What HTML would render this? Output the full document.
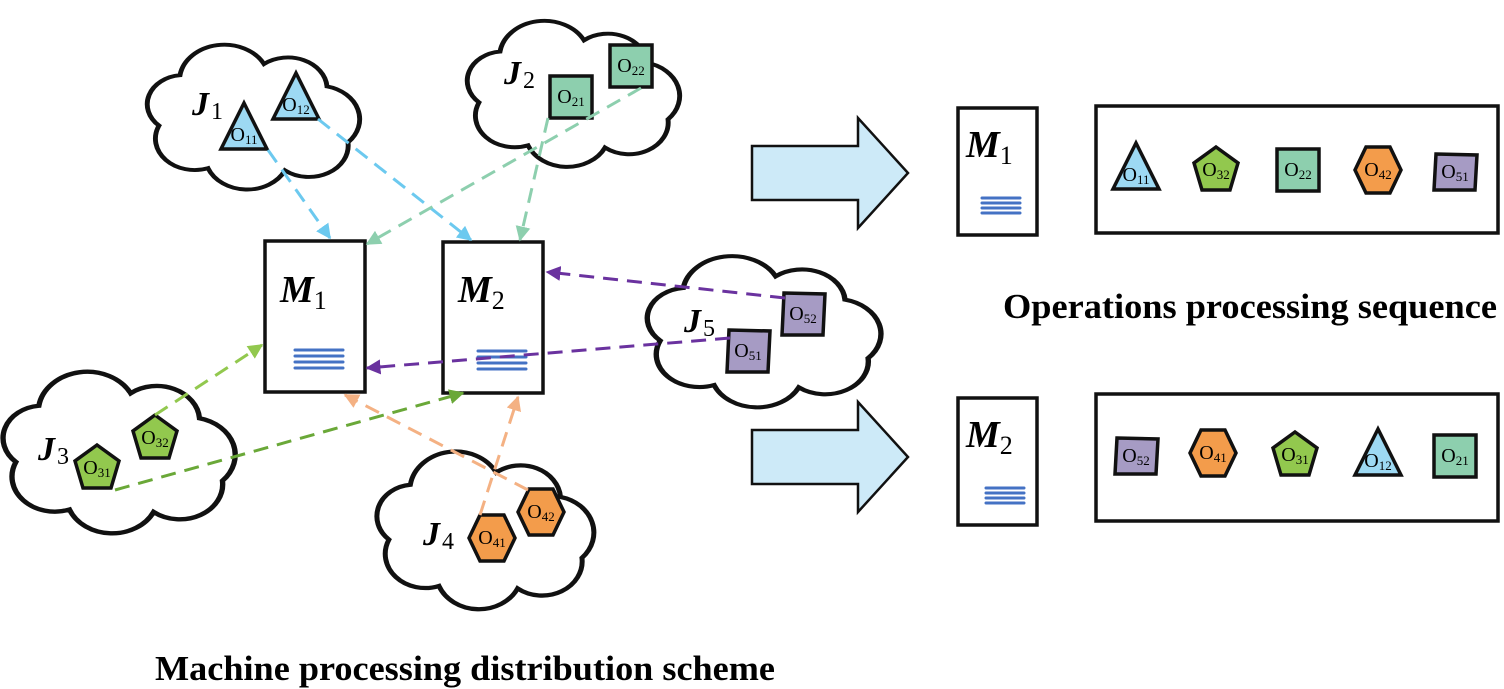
<!DOCTYPE html>
<html><head><meta charset="utf-8"><style>
html,body{margin:0;padding:0;background:#fff;width:1504px;height:689px;overflow:hidden}
svg{display:block}
text{font-family:"Liberation Serif",serif}
.cl{fill:#fff;stroke:#111;stroke-width:3.5;vector-effect:non-scaling-stroke}
.sh{stroke:#111;stroke-width:3.5;stroke-linejoin:miter}
.ot{font-size:20px;text-anchor:middle}
.ot tspan{font-size:13px}
.jl{font-size:34px;font-style:italic;font-weight:bold}
.jl tspan{font-size:24px;font-style:normal;font-weight:normal}
.ml{font-size:38px;font-style:italic;font-weight:bold}
.ml tspan{font-size:26px;font-style:normal;font-weight:normal}
.box{fill:#fff;stroke:#111;stroke-width:3.5}
.bl{stroke:#4472c4;stroke-width:3;stroke-linecap:round}
.d{fill:none;stroke-width:3;stroke-dasharray:15 9}
</style></head><body>
<svg width="1504" height="689" viewBox="0 0 1504 689" xmlns="http://www.w3.org/2000/svg">
<defs>
<path id="cloud" d="M45,35 A32,32 0 0 1 105,25 A28,28 0 0 1 150,45 A30,30 0 0 1 165,95 A28,28 0 0 1 120,120 A30,30 0 0 1 65,118 A28,28 0 0 1 30,80 A26,26 0 0 1 45,35 Z"/>
<marker id="aB" viewBox="0 0 10 10" refX="9" refY="5" markerWidth="5" markerHeight="5" orient="auto"><path d="M0,0L10,5L0,10z" fill="#6cc9ef"/></marker>
<marker id="aT" viewBox="0 0 10 10" refX="9" refY="5" markerWidth="5" markerHeight="5" orient="auto"><path d="M0,0L10,5L0,10z" fill="#8dcfae"/></marker>
<marker id="aP" viewBox="0 0 10 10" refX="9" refY="5" markerWidth="5" markerHeight="5" orient="auto"><path d="M0,0L10,5L0,10z" fill="#6a329f"/></marker>
<marker id="aL" viewBox="0 0 10 10" refX="9" refY="5" markerWidth="5" markerHeight="5" orient="auto"><path d="M0,0L10,5L0,10z" fill="#92c84e"/></marker>
<marker id="aG" viewBox="0 0 10 10" refX="9" refY="5" markerWidth="5" markerHeight="5" orient="auto"><path d="M0,0L10,5L0,10z" fill="#6aa838"/></marker>
<marker id="aO" viewBox="0 0 10 10" refX="9" refY="5" markerWidth="5" markerHeight="5" orient="auto"><path d="M0,0L10,5L0,10z" fill="#f4b183"/></marker>
</defs>

<use href="#cloud" class="cl" transform="translate(117,36) scale(1.4,1.12)"/>
<use href="#cloud" class="cl" transform="translate(437,12) scale(1.4,1.13)"/>
<use href="#cloud" class="cl" transform="translate(-30,362) scale(1.53,1.25)"/>
<use href="#cloud" class="cl" transform="translate(346,442) scale(1.43,1.22)"/>
<use href="#cloud" class="cl" transform="translate(614,247) scale(1.54,1.17)"/>

<rect class="box" x="265" y="241" width="100" height="151"/>
<rect class="box" x="443" y="242" width="100" height="151"/>
<text class="ml" x="280" y="302">M<tspan dy="7">1</tspan></text>
<text class="ml" x="458" y="302">M<tspan dy="7">2</tspan></text>
<g class="bl"><line x1="295" y1="350" x2="343" y2="350"/><line x1="295" y1="356" x2="343" y2="356"/><line x1="295" y1="362" x2="343" y2="362"/><line x1="295" y1="368" x2="343" y2="368"/></g>
<g class="bl"><line x1="478" y1="351" x2="526" y2="351"/><line x1="478" y1="357" x2="526" y2="357"/><line x1="478" y1="363" x2="526" y2="363"/><line x1="478" y1="369" x2="526" y2="369"/></g>

<text class="jl" x="192" y="115">J<tspan dx="2" dy="4">1</tspan></text>
<text class="jl" x="504" y="84">J<tspan dx="2" dy="4">2</tspan></text>
<text class="jl" x="38" y="460">J<tspan dx="2" dy="4">3</tspan></text>
<text class="jl" x="423" y="545">J<tspan dx="2" dy="4">4</tspan></text>
<text class="jl" x="684" y="332">J<tspan dx="2" dy="4">5</tspan></text>

<g transform="translate(244,126)"><polygon class="sh" fill="#9dd9f3" points="0,-23 23,23 -23,23"/><text class="ot" y="15">O<tspan dy="3">11</tspan></text></g>
<g transform="translate(296,96)"><polygon class="sh" fill="#9dd9f3" points="0,-23 23,23 -23,23"/><text class="ot" y="15">O<tspan dy="3">12</tspan></text></g>
<g transform="translate(571,97)"><polygon class="sh" fill="#8dcfae" points="-21,-21 21,-21 21,21 -21,21"/><text class="ot" y="6">O<tspan dy="3">21</tspan></text></g>
<g transform="translate(631,66)"><polygon class="sh" fill="#8dcfae" points="-21,-21 21,-21 21,21 -21,21"/><text class="ot" y="6">O<tspan dy="3">22</tspan></text></g>
<g transform="translate(97,468)"><polygon class="sh" fill="#92c84e" points="0,-23 22,-7 14,20 -14,20 -22,-7"/><text class="ot" y="6">O<tspan dy="3">31</tspan></text></g>
<g transform="translate(155,438)"><polygon class="sh" fill="#92c84e" points="0,-23 22,-7 14,20 -14,20 -22,-7"/><text class="ot" y="6">O<tspan dy="3">32</tspan></text></g>
<g transform="translate(492,538)"><polygon class="sh" fill="#f39c4b" points="-23,0 -12,-23 12,-23 23,0 12,23 -12,23"/><text class="ot" y="6">O<tspan dy="3">41</tspan></text></g>
<g transform="translate(541,512)"><polygon class="sh" fill="#f39c4b" points="-23,0 -12,-23 12,-23 23,0 12,23 -12,23"/><text class="ot" y="6">O<tspan dy="3">42</tspan></text></g>
<g transform="translate(748,351)"><polygon class="sh" fill="#a69bc4" points="-19,-21 22,-20 20,21 -21,21"/><text class="ot" y="6">O<tspan dy="3">51</tspan></text></g>
<g transform="translate(803,314)"><polygon class="sh" fill="#a69bc4" points="-19,-21 22,-20 20,21 -21,21"/><text class="ot" y="6">O<tspan dy="3">52</tspan></text></g>

<line class="d" stroke="#6cc9ef" x1="268" y1="150" x2="330" y2="238" marker-end="url(#aB)"/>
<line class="d" stroke="#6cc9ef" x1="318" y1="119" x2="471" y2="240" marker-end="url(#aB)"/>
<line class="d" stroke="#8dcfae" x1="641" y1="88" x2="367" y2="244" marker-end="url(#aT)"/>
<line class="d" stroke="#8dcfae" x1="548" y1="118" x2="520" y2="240" marker-end="url(#aT)"/>
<line class="d" stroke="#6a329f" x1="785" y1="298" x2="547" y2="272" marker-end="url(#aP)"/>
<line class="d" stroke="#6a329f" x1="730" y1="338" x2="367" y2="368" marker-end="url(#aP)"/>
<line class="d" stroke="#92c84e" x1="155" y1="415" x2="262" y2="345" marker-end="url(#aL)"/>
<line class="d" stroke="#6aa838" x1="115" y1="490" x2="463" y2="393" marker-end="url(#aG)"/>
<line class="d" stroke="#f4b183" x1="528" y1="490" x2="345" y2="395" marker-end="url(#aO)"/>
<line class="d" stroke="#f4b183" x1="480" y1="515" x2="518" y2="397" marker-end="url(#aO)"/>

<polygon points="752,146 858,146 858,118 908,173 858,228 858,200 752,200" fill="#cdeaf8" stroke="#111" stroke-width="2.5"/>
<polygon points="752,430 858,430 858,402 908,457 858,512 858,484 752,484" fill="#cdeaf8" stroke="#111" stroke-width="2.5"/>

<rect class="box" x="958" y="108" width="79" height="127"/>
<text class="ml" x="966" y="157">M<tspan dy="7">1</tspan></text>
<g class="bl"><line x1="982" y1="198" x2="1020" y2="198"/><line x1="982" y1="203" x2="1020" y2="203"/><line x1="982" y1="208" x2="1020" y2="208"/><line x1="982" y1="213" x2="1020" y2="213"/></g>
<rect class="box" x="1096" y="106" width="402" height="127"/>

<rect class="box" x="958" y="398" width="79" height="127"/>
<text class="ml" x="966" y="447">M<tspan dy="7">2</tspan></text>
<g class="bl"><line x1="986" y1="488" x2="1024" y2="488"/><line x1="986" y1="493" x2="1024" y2="493"/><line x1="986" y1="498" x2="1024" y2="498"/><line x1="986" y1="503" x2="1024" y2="503"/></g>
<rect class="box" x="1096" y="394" width="402" height="127"/>

<g transform="translate(1136,166)"><polygon class="sh" fill="#9dd9f3" points="0,-23 23,23 -23,23"/><text class="ot" y="15">O<tspan dy="3">11</tspan></text></g>
<g transform="translate(1216,170)"><polygon class="sh" fill="#92c84e" points="0,-23 22,-7 14,20 -14,20 -22,-7"/><text class="ot" y="6">O<tspan dy="3">32</tspan></text></g>
<g transform="translate(1298,170)"><polygon class="sh" fill="#8dcfae" points="-21,-21 21,-21 21,21 -21,21"/><text class="ot" y="6">O<tspan dy="3">22</tspan></text></g>
<g transform="translate(1378,170)"><polygon class="sh" fill="#f39c4b" points="-23,0 -12,-23 12,-23 23,0 12,23 -12,23"/><text class="ot" y="6">O<tspan dy="3">42</tspan></text></g>
<g transform="translate(1455,172)"><polygon class="sh" fill="#a69bc4" points="-19,-18 22,-17 20,18 -21,18"/><text class="ot" y="6">O<tspan dy="3">51</tspan></text></g>

<g transform="translate(1136,456)"><polygon class="sh" fill="#a69bc4" points="-19,-18 22,-17 20,18 -21,18"/><text class="ot" y="6">O<tspan dy="3">52</tspan></text></g>
<g transform="translate(1213,453)"><polygon class="sh" fill="#f39c4b" points="-23,0 -12,-23 12,-23 23,0 12,23 -12,23"/><text class="ot" y="6">O<tspan dy="3">41</tspan></text></g>
<g transform="translate(1295,455)"><polygon class="sh" fill="#92c84e" points="0,-23 22,-7 14,20 -14,20 -22,-7"/><text class="ot" y="6">O<tspan dy="3">31</tspan></text></g>
<g transform="translate(1378,452)"><polygon class="sh" fill="#9dd9f3" points="0,-23 23,23 -23,23"/><text class="ot" y="15">O<tspan dy="3">12</tspan></text></g>
<g transform="translate(1455,456)"><polygon class="sh" fill="#8dcfae" points="-21,-21 21,-21 21,21 -21,21"/><text class="ot" y="6">O<tspan dy="3">21</tspan></text></g>

<text x="1250" y="318" text-anchor="middle" font-size="35" font-weight="bold" textLength="494" lengthAdjust="spacingAndGlyphs">Operations processing sequence</text>
<text x="465" y="680" text-anchor="middle" font-size="35" font-weight="bold" textLength="620" lengthAdjust="spacingAndGlyphs">Machine processing distribution scheme</text>
</svg>
</body></html>
